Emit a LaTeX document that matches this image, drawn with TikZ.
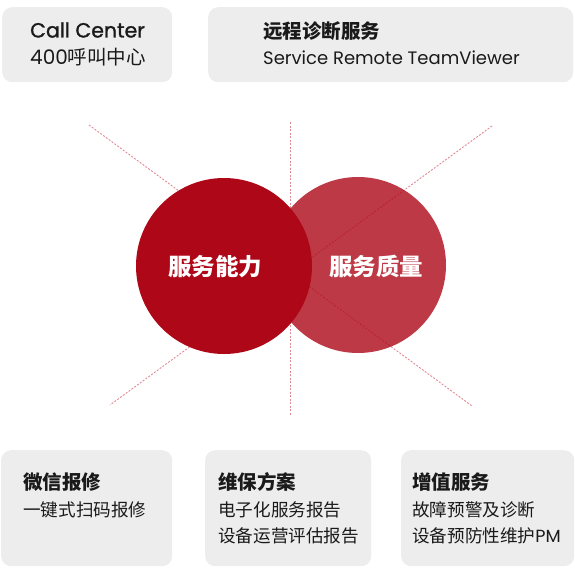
\documentclass[tikz,border=0pt]{standalone}
\usepackage{fontspec}
\setmainfont{Noto Sans CJK SC}
\newfontfamily\latinf{Poppins}
\newfontfamily\latinmed[FakeBold=1.2]{Poppins}
\definecolor{boxgray}{HTML}{EDEDED}
\definecolor{cred}{HTML}{AE0818}
\definecolor{dashpink}{HTML}{E08A95}
\definecolor{txt}{HTML}{1A1A1A}
\begin{document}
\begin{tikzpicture}[x=1pt,y=-1pt,
  panel/.style={fill=boxgray, draw=none, rounded corners=10pt, inner sep=0pt, anchor=north west},
  guide/.style={draw=dashpink, line width=0.9pt, dash pattern=on 2pt off 1.5pt},
  disc/.style={circle, fill=cred, draw=none, minimum size=176pt, inner sep=0pt},
  lbl/.style={anchor=base west, inner sep=0pt, text=txt},
  bigtxt/.style={lbl, font=\fontsize{19.5}{22}\selectfont},
  ttl/.style={lbl, font=\fontsize{19.5}{22}\selectfont\bfseries},
  sub/.style={lbl, font=\fontsize{17.6}{20}\selectfont},
  clbl/.style={anchor=base, inner sep=0pt, text=white, font=\fontsize{23.5}{26}\selectfont\bfseries}]
\useasboundingbox (0,0) rectangle (575,578);
% panels
\node[panel, minimum width=170pt, minimum height=75pt] (p1) at (2,7) {};
\node[panel, minimum width=365pt, minimum height=75pt] (p2) at (208,7) {};
\node[panel, minimum width=171pt, minimum height=116pt] (p3) at (1,450) {};
\node[panel, minimum width=166pt, minimum height=116pt] (p4) at (205,450) {};
\node[panel, minimum width=173pt, minimum height=116pt] (p5) at (401,450) {};
% panel texts
\node[lbl, font=\fontsize{20.5}{22}\selectfont\latinmed] (a1) at (30,37.5) {Call Center};
\node[bigtxt] (a2) at (30,64.7) {{\latinf\fontsize{20}{22}\selectfont 400}呼叫中心};
\node[ttl] (b1) at (263,38.2) {远程诊断服务};
\node[lbl, font=\fontsize{18}{22}\selectfont\latinf] (b2) at (263,64.8) {Service Remote TeamViewer};
\node[ttl] (c1) at (23,489.7) {微信报修};
\node[sub] (c2) at (23,516.5) {一键式扫码报修};
\node[ttl] (d1) at (218,489.7) {维保方案};
\node[sub] (d2) at (218,516.5) {电子化服务报告};
\node[sub] (d3) at (218,542.5) {设备运营评估报告};
\node[ttl] (e1) at (412,489.7) {增值服务};
\node[sub] (e2) at (412,516.5) {故障预警及诊断};
\node[sub] (e3) at (412,542.5) {设备预防性维护{\latinf PM}};
% guide lines
\coordinate (ul) at (89,125);
\coordinate (lr) at (472,406);
\coordinate (ur) at (492,126);
\coordinate (ll) at (110,405);
\coordinate (vt) at (290,122);
\coordinate (vb) at (290,415);
\draw[guide] (ul) -- (lr);
\draw[guide] (ur) -- (ll);
\draw[guide] (vt) -- (vb);
% circles
\node[disc, opacity=0.8] (qual) at (358,265) {};
\node[disc] (cap) at (224,266) {};
\node[clbl] (capt) at (215,275.7) {服务能力};
\node[clbl] (qualt) at (376,275.7) {服务质量};
\end{tikzpicture}
\end{document}
